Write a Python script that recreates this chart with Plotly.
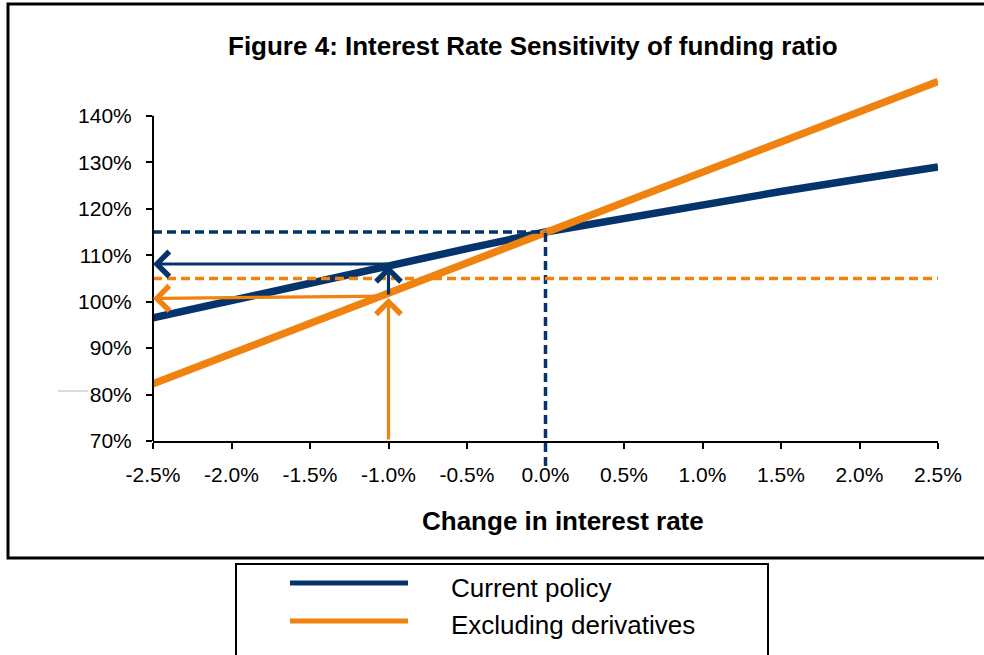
import plotly.graph_objects as go

# ---------------- data ----------------
rate_change = [-2.5, -2.0, -1.5, -1.0, -0.5, 0.0, 0.5, 1.0, 1.5, 2.0, 2.5]
current_policy = [96.5, 100.3, 104.1, 107.8, 111.4, 115.0, 118.0, 120.9, 123.7, 126.4, 129.0]
excluding_derivatives = [82.3, 88.8, 95.3, 101.8, 108.4, 115.0, 121.5, 128.0, 134.5, 141.0, 147.4]

series_names = ["Current policy", "Excluding derivatives"]

x_tick_vals = [-2.5, -2.0, -1.5, -1.0, -0.5, 0.0, 0.5, 1.0, 1.5, 2.0, 2.5]
x_tick_text = ["-2.5%", "-2.0%", "-1.5%", "-1.0%", "-0.5%", "0.0%", "0.5%", "1.0%", "1.5%", "2.0%", "2.5%"]
y_tick_vals = [70, 80, 90, 100, 110, 120, 130, 140]
y_tick_text = ["70%", "80%", "90%", "100%", "110%", "120%", "130%", "140%"]

base_rate = 0.0
base_ratio = 115.0        # funding ratio at unchanged rates
threshold_ratio = 105.0   # reference funding level
shock_rate = -1.0
shock_current = 108.1
shock_excluding = 100.8
shock_excluding_start = 101.2

# ---------------- style ----------------
NAVY = "#05346C"
ORANGE = "#F0820F"
W, H = 984, 655
ML, MR, MT, MB = 153, 46, 74, 214
PW, PH = W - ML - MR, H - MT - MB
FONT = "Liberation Sans, Arial, sans-serif"


def px(x):
    return (x - ML) / PW


def py(y):
    return (H - MB - y) / PH


fig = go.Figure()
fig.add_trace(go.Scatter(x=rate_change, y=current_policy, mode="lines",
                         name=series_names[0], line=dict(color=NAVY, width=7.5),
                         showlegend=False))
fig.add_trace(go.Scatter(x=rate_change, y=excluding_derivatives, mode="lines",
                         name=series_names[1], line=dict(color=ORANGE, width=7.5),
                         showlegend=False))

shapes = []
# dashed reference lines
shapes.append(dict(type="line", xref="x", yref="y", x0=x_tick_vals[0], x1=base_rate,
                   y0=base_ratio, y1=base_ratio, line=dict(color=NAVY, width=3.5, dash="9px,5px")))
shapes.append(dict(type="line", xref="x", yref="paper", x0=base_rate, x1=base_rate,
                   y0=py(466), y1=(base_ratio - 70) / (149 - 70),
                   line=dict(color=NAVY, width=3.5, dash="9px,5px")))
shapes.append(dict(type="line", xref="x", yref="y", x0=x_tick_vals[0], x1=x_tick_vals[-1],
                   y0=threshold_ratio, y1=threshold_ratio,
                   line=dict(color=ORANGE, width=3.5, dash="9px,5px")))
# y axis line (only to 140%)
shapes.append(dict(type="line", xref="paper", yref="y", x0=0, x1=0, y0=y_tick_vals[0], y1=y_tick_vals[-1],
                   line=dict(color="black", width=2)))
# outer frame
shapes.append(dict(type="rect", xref="paper", yref="paper", x0=px(8), x1=px(1000), y0=py(558), y1=py(4),
                   line=dict(color="black", width=3)))
# legend frame
shapes.append(dict(type="rect", xref="paper", yref="paper", x0=px(236), x1=px(768), y0=py(680), y1=py(564),
                   line=dict(color="black", width=2)))
shapes.append(dict(type="line", xref="paper", yref="paper", x0=px(290), x1=px(408), y0=py(583), y1=py(583),
                   line=dict(color=NAVY, width=5)))
shapes.append(dict(type="line", xref="paper", yref="paper", x0=px(290), x1=px(408), y0=py(621), y1=py(621),
                   line=dict(color=ORANGE, width=5)))
# tiny artifact left of 80%
shapes.append(dict(type="line", xref="paper", yref="paper", x0=px(58), x1=px(88), y0=py(391), y1=py(391),
                   line=dict(color="#b8b8b8", width=1)))

annotations = []


def arrow(x_head, y_head, x_tail, y_tail, color):
    annotations.append(dict(x=x_head, y=y_head, ax=x_tail, ay=y_tail, xref="x", yref="y",
                            axref="x", ayref="y", text="", showarrow=True, arrowhead=4,
                            arrowsize=1.5, arrowwidth=3.2, arrowcolor=color, standoff=0))


arrow(x_tick_vals[0], shock_current, shock_rate, shock_current, NAVY)
arrow(shock_rate, shock_current - 0.3, shock_rate, shock_excluding_start, NAVY)
arrow(shock_rate, shock_excluding, shock_rate, y_tick_vals[0], ORANGE)
arrow(x_tick_vals[0], shock_excluding - 0.1, shock_rate, shock_excluding_start, ORANGE)

annotations.append(dict(text="<b>Figure 4: Interest Rate Sensitivity of funding ratio</b>",
                        xref="paper", yref="paper", x=px(533), y=py(46), showarrow=False,
                        xanchor="center", yanchor="middle", font=dict(family=FONT, size=26, color="black")))
annotations.append(dict(text="<b>Change in interest rate</b>",
                        xref="paper", yref="paper", x=px(563), y=py(521), showarrow=False,
                        xanchor="center", yanchor="middle", font=dict(family=FONT, size=26, color="black")))
annotations.append(dict(text=series_names[0], xref="paper", yref="paper", x=px(449), y=py(588),
                        showarrow=False, xanchor="left", yanchor="middle",
                        font=dict(family=FONT, size=26, color="black")))
annotations.append(dict(text=series_names[1], xref="paper", yref="paper", x=px(449), y=py(625),
                        showarrow=False, xanchor="left", yanchor="middle",
                        font=dict(family=FONT, size=26, color="black")))

fig.update_layout(
    width=W, height=H, autosize=False,
    margin=dict(l=ML, r=MR, t=MT, b=MB, pad=0),
    paper_bgcolor="white", plot_bgcolor="white",
    showlegend=False,
    shapes=shapes, annotations=annotations,
    font=dict(family=FONT, color="black"),
    xaxis=dict(range=[x_tick_vals[0], x_tick_vals[-1]], tickvals=x_tick_vals, ticktext=x_tick_text,
               ticks="outside", ticklen=6, tickwidth=2, tickcolor="black",
               showline=True, linecolor="black", linewidth=2, showgrid=False, zeroline=False,
               ticklabelstandoff=8,
               tickfont=dict(family=FONT, size=21, color="black")),
    yaxis=dict(range=[70, 149], tickvals=y_tick_vals, ticktext=y_tick_text,
               ticks="outside", ticklen=6, tickwidth=2, tickcolor="black",
               showline=False, showgrid=False, zeroline=False,
               ticklabelstandoff=10,
               tickfont=dict(family=FONT, size=21, color="black")),
)

fig.write_html("out.html")
